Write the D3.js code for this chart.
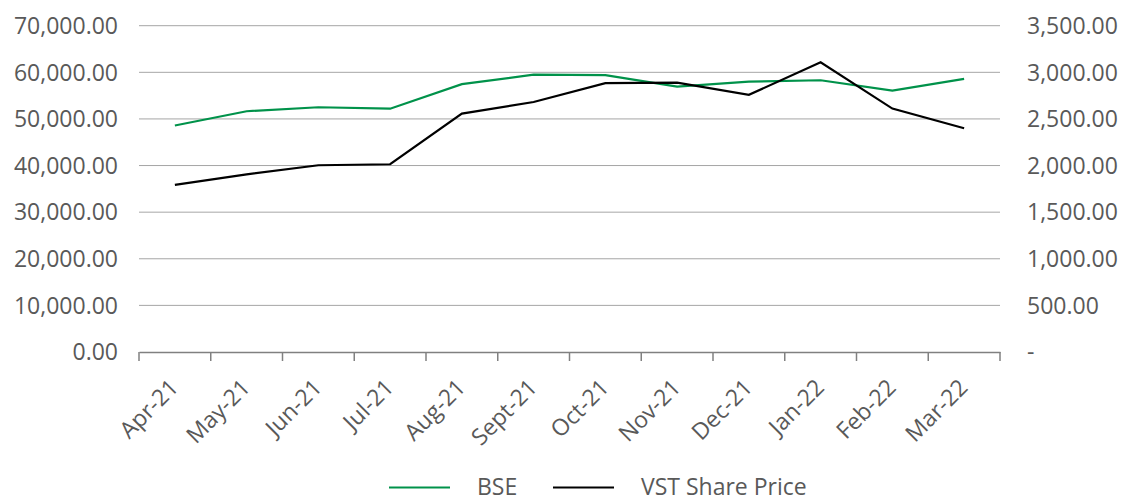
<!DOCTYPE html>
<html>
<head>
<meta charset="utf-8">
<script src="https://cdn.jsdelivr.net/npm/d3@7"></script>
<style>
  body { margin: 0; background: #fff; }
  text { font-family: "Open Sans", sans-serif; fill: #595959; }
</style>
</head>
<body>
<div id="chart"></div>
<script>
// DATA

var months = ["Apr-21", "May-21", "Jun-21", "Jul-21", "Aug-21", "Sept-21",
              "Oct-21", "Nov-21", "Dec-21", "Jan-22", "Feb-22", "Mar-22"];

var bse = [48600, 51650, 52500, 52200, 57450, 59500,
           59400, 56940, 58000, 58300, 56070, 58580];

var vst = [1792, 1905, 2003, 2014, 2557, 2682,
           2883, 2890, 2758, 3108, 2611, 2400];

var leftTicks = [0, 10000, 20000, 30000, 40000, 50000, 60000, 70000];
var rightTicks = [0, 500, 1000, 1500, 2000, 2500, 3000, 3500];

// LAYOUT

var width = 1126;
var height = 497;
var plotLeft = 139, plotRight = 1000, plotTop = 25.7, plotBottom = 352;

var svg = d3.select("#chart")
    .append("svg")
    .attr("width", width)
    .attr("height", height);

var x = d3.scaleBand()
    .domain(months)
    .range([plotLeft, plotRight]);

var yL = d3.scaleLinear()
    .domain([0, 70000])
    .range([plotBottom, plotTop]);

var yR = d3.scaleLinear()
    .domain([0, 3500])
    .range([plotBottom, plotTop]);

var fmt = d3.format(",.2f");

// gridlines
svg.append("g")
    .selectAll("line")
    .data(leftTicks.slice(1))
    .enter()
    .append("line")
    .attr("x1", plotLeft)
    .attr("x2", plotRight)
    .attr("y1", function (d) { return yL(d); })
    .attr("y2", function (d) { return yL(d); })
    .style("stroke", "#a6a6a6")
    .style("stroke-width", 1);

// left labels
svg.append("g")
    .selectAll("text")
    .data(leftTicks)
    .enter()
    .append("text")
    .attr("x", 118)
    .attr("y", function (d) { return yL(d); })
    .attr("dy", "0.36em")
    .attr("text-anchor", "end")
    .style("font-size", "23px")
    .text(function (d) { return fmt(d); });

// right labels
svg.append("g")
    .selectAll("text")
    .data(rightTicks)
    .enter()
    .append("text")
    .attr("x", 1027)
    .attr("y", function (d) { return yR(d); })
    .attr("dy", "0.36em")
    .style("font-size", "23px")
    .text(function (d) { return d === 0 ? "-" : fmt(d); });

// x axis
var xAxis = svg.append("g")
    .attr("transform", "translate(0," + plotBottom + ")")
    .call(d3.axisBottom(x).tickSize(0).tickFormat(""));

xAxis.select(".domain").style("stroke", "#808080").style("stroke-width", 1.5);

var edges = months.map(function (m) { return x(m); }).concat([plotRight]);

xAxis.selectAll("line.edge")
    .data(edges)
    .enter()
    .append("line")
    .attr("class", "edge")
    .attr("x1", function (d) { return d; })
    .attr("x2", function (d) { return d; })
    .attr("y1", 0)
    .attr("y2", 9)
    .style("stroke", "#808080")
    .style("stroke-width", 1.5);

svg.append("g")
    .selectAll("text")
    .data(months)
    .enter()
    .append("text")
    .attr("text-anchor", "end")
    .style("font-size", "23px")
    .attr("transform", function (d) {
        return "translate(" + (x(d) + x.bandwidth() / 2 + 5) + "," + (plotBottom + 37) + ") rotate(-45)";
    })
    .text(function (d) { return d; });

// lines
var lineL = d3.line()
    .x(function (d, i) { return x(months[i]) + x.bandwidth() / 2; })
    .y(function (d) { return yL(d); });

var lineR = d3.line()
    .x(function (d, i) { return x(months[i]) + x.bandwidth() / 2; })
    .y(function (d) { return yR(d); });

svg.append("path")
    .datum(bse)
    .attr("d", lineL)
    .style("fill", "none")
    .style("stroke", "#00924a")
    .style("stroke-width", 2.2);

svg.append("path")
    .datum(vst)
    .attr("d", lineR)
    .style("fill", "none")
    .style("stroke", "#000")
    .style("stroke-width", 2.2);

// legend
var legend = [
    { name: "BSE", color: "#00924a", x: 389 },
    { name: "VST Share Price", color: "#000", x: 553 }
];

var lg = svg.append("g");

lg.selectAll("line")
    .data(legend)
    .enter()
    .append("line")
    .attr("x1", function (d) { return d.x; })
    .attr("x2", function (d) { return d.x + 61; })
    .attr("y1", 487.5)
    .attr("y2", 487.5)
    .style("stroke", function (d) { return d.color; })
    .style("stroke-width", 2.2);

lg.selectAll("text")
    .data(legend)
    .enter()
    .append("text")
    .attr("x", function (d) { return d.x + 88; })
    .attr("y", 495)
    .style("font-size", "23px")
    .text(function (d) { return d.name; });
</script>
</body>
</html>
